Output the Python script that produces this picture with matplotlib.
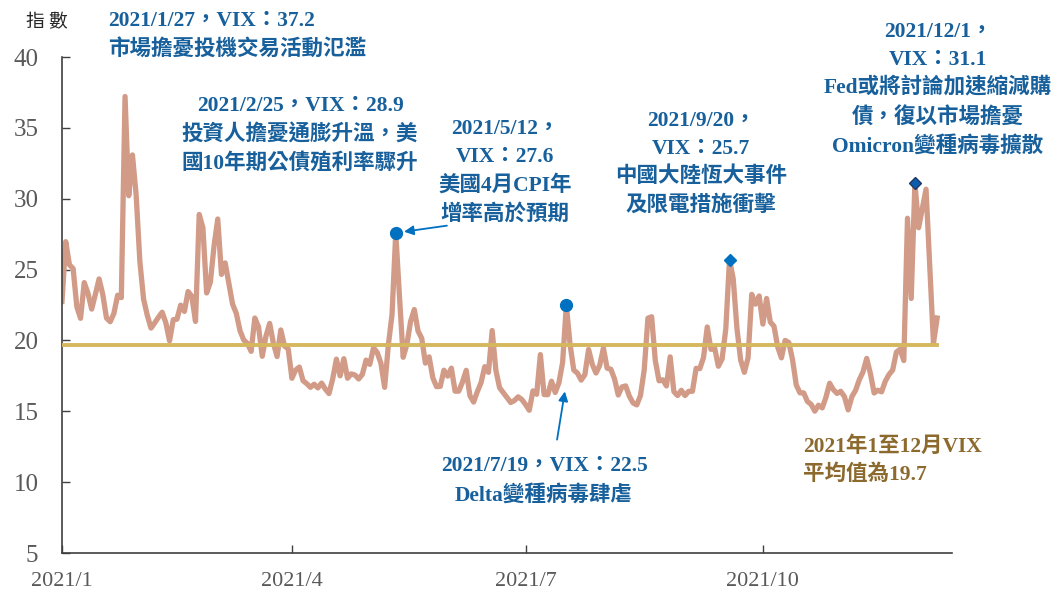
import numpy as np
import matplotlib
matplotlib.use('Agg')
import matplotlib.pyplot as plt

plt.rcParams['font.family'] = ['Liberation Serif', 'Noto Sans CJK TC']

# VIX daily close, one value per trading day (first point is 2020/12/31)
vix_dec20 = [22.75]
vix_jan = [26.97, 25.34, 25.07, 22.37, 21.56, 24.08, 23.33, 22.21, 23.25, 24.34,
           23.24, 21.58, 21.32, 21.91, 23.19, 23.02, 37.21, 30.21, 33.09]
vix_feb = [30.24, 25.56, 22.91, 21.77, 20.87, 21.24, 21.63, 21.99, 21.25, 19.97,
           21.46, 21.50, 22.49, 22.05, 23.45, 23.11, 21.34, 28.89, 27.95]
vix_mar = [23.35, 24.10, 26.67, 28.57, 24.66, 25.47, 24.03, 22.56, 21.91, 20.69,
           20.03, 19.79, 19.23, 21.58, 20.95, 18.88, 20.30, 21.20, 19.81, 18.86,
           20.74, 19.61, 19.40]
vix_apr = [17.33, 17.91, 18.12, 17.16, 16.95, 16.69, 16.91, 16.65, 16.99, 16.57,
           16.25, 17.29, 18.68, 17.50, 18.71, 17.33, 17.64, 17.56, 17.28, 17.61,
           18.61]
vix_may = [18.31, 19.48, 19.15, 18.39, 16.69, 19.66, 21.84, 27.59, 23.13, 18.81,
           19.72, 21.34, 22.18, 20.67, 20.15, 18.40, 18.84, 17.36, 16.74, 16.76]
vix_jun = [17.90, 17.48, 18.04, 16.42, 16.42, 17.07, 17.89, 16.10, 15.65, 16.39,
           17.02, 18.15, 17.75, 20.70, 17.89, 16.66, 16.32, 15.97, 15.62, 15.76,
           16.02, 15.83]
vix_jul = [15.48, 15.07, 16.44, 16.20, 19.00, 16.18, 16.17, 17.12, 16.33, 17.01,
           18.45, 22.50, 19.73, 17.91, 17.69, 17.20, 17.58, 19.36, 18.31, 17.70,
           18.24]
vix_aug = [19.46, 18.04, 17.97, 17.28, 16.15, 16.72, 16.79, 16.06, 15.59, 15.45,
           16.12, 17.91, 21.57, 21.67, 18.56, 17.15, 17.22, 16.79, 18.84, 16.39,
           16.11, 16.48]
vix_sep = [16.11, 16.41, 16.41, 18.03, 18.01, 18.80, 20.95, 19.37, 19.46, 18.18,
           18.69, 20.81, 25.71, 24.36, 20.87, 18.63, 17.75, 18.76, 23.25, 22.56,
           23.14]
vix_oct = [21.15, 22.96, 21.30, 21.00, 19.54, 18.77, 20.00, 19.85, 18.64, 16.86,
           16.30, 16.30, 15.70, 15.49, 15.01, 15.43, 15.24, 15.98, 16.98, 16.53,
           16.26]
vix_nov = [16.41, 16.03, 15.10, 16.03, 16.48, 17.22, 17.78, 18.73, 17.66, 16.29,
           16.49, 16.37, 17.11, 17.59, 17.91, 19.17, 19.38, 18.58, 28.62, 22.96]
vix_dec = [31.12, 27.95, 29.30, 30.67, 25.30, 19.80, 21.58]

vix_avg = 19.7

months = [vix_dec20, vix_jan, vix_feb, vix_mar, vix_apr, vix_may, vix_jun,
          vix_jul, vix_aug, vix_sep, vix_oct, vix_nov, vix_dec]
tick_months = [0, 4, 7, 10]
tick_labels = ['2021/1', '2021/4', '2021/7', '2021/10']

# highlighted days (found by their value in the series)
dot_vals = [27.59, 22.50]
diamond_vals = [25.71]
dec1_val = 31.12

vix = np.concatenate(months)
x = np.arange(len(vix))
starts = np.cumsum([0] + [len(m) for m in months])[:-1]

line_c = '#D19B87'
avg_c = '#D5B85E'
mk_blue = '#0070C0'
txt_blue = '#17609C'
brown = '#8C6A2E'

fig = plt.figure(figsize=(10.55, 5.9), dpi=100)
ax = fig.add_axes([62 / 1055, 1 - 553 / 590, 890 / 1055, 496 / 590])

ax.plot(x, vix, color=line_c, lw=3.8, solid_joinstyle='round', zorder=2)
ax.plot(x, np.full(len(x), vix_avg), color=avg_c, lw=2.8, zorder=3)

idx = [int(np.flatnonzero(vix == v)[0]) for v in dot_vals]
ax.plot(x[idx], vix[idx], 'o', ms=8.5, color=mk_blue, zorder=5)
idx = [int(np.flatnonzero(vix == v)[0]) for v in diamond_vals]
ax.plot(x[idx], vix[idx], 'D', ms=6, color=mk_blue, zorder=5)
i_dec1 = int(np.flatnonzero(vix == dec1_val)[0])
ax.plot(x[i_dec1], vix[i_dec1], 'D', ms=6.5, mfc='#0B5CAD', mec='#1F3864',
        mew=1, zorder=5)

ax.set_xlim(0, 240)
ax.set_ylim(5, 40)
ax.set_yticks(range(5, 41, 5))
ax.set_xticks(starts[tick_months])
ax.set_xticklabels(tick_labels)
for s in ['top', 'right']:
    ax.spines[s].set_visible(False)
for s in ['left', 'bottom']:
    ax.spines[s].set_color('#404040')
    ax.spines[s].set_linewidth(1.2)
ax.tick_params(direction='in', length=6, width=1, colors='#404040',
               labelcolor='#595959', labelsize=16)
ax.tick_params(axis='y', pad=17, labelsize=18)
ax.tick_params(axis='x', pad=14)

fig.text(47 / 1055, 1 - 22 / 590, '指 數', fontsize=13.5, color='#262626',
         ha='center', va='center', family=['Noto Sans CJK TC'])

note = dict(fontsize=15.5, fontweight='bold', color=txt_blue, linespacing=1.5,
            va='center', ma='center', ha='center')
ax.text(12.4, 41.5, '2021/1/27，VIX：37.2\n市場擔憂投機交易活動氾濫',
        **{**note, 'ha': 'left', 'ma': 'left'})
ax.text(64.2, 34.5, '2021/2/25，VIX：28.9\n投資人擔憂通膨升溫，美\n國10年期公債殖利率驟升',
        **note)
ax.text(119.5, 31.9, '2021/5/12，\nVIX：27.6\n美國4月CPI年\n增率高於預期', **note)
ax.text(172.3, 32.5, '2021/9/20，\nVIX：25.7\n中國大陸恆大事件\n及限電措施衝擊', **note)
ax.text(236.2, 37.7, '2021/12/1，\nVIX：31.1\nFed或將討論加速縮減購\n債，復以市場擔憂\nOmicron變種病毒擴散',
        **note)
ax.text(130, 10.1, '2021/7/19，VIX：22.5\nDelta變種病毒肆虐', **note)
ax.text(199.8, 11.5, '2021年1至12月VIX\n平均值為19.7',
        **{**note, 'color': brown, 'ha': 'left', 'ma': 'left'})

arrow = dict(arrowstyle='-|>', color=mk_blue, lw=1.3, mutation_scale=14,
             shrinkA=0)
i_may = int(np.flatnonzero(vix == dot_vals[0])[0])
ax.annotate('', xy=(x[i_may], vix[i_may]), xytext=(103.8, 28.1),
            arrowprops={**arrow, 'shrinkB': 6})
ax.annotate('', xy=(135.6, 16.4), xytext=(133.5, 13.0),
            arrowprops={**arrow, 'shrinkB': 0})

fig.savefig('out.png', dpi=100)
